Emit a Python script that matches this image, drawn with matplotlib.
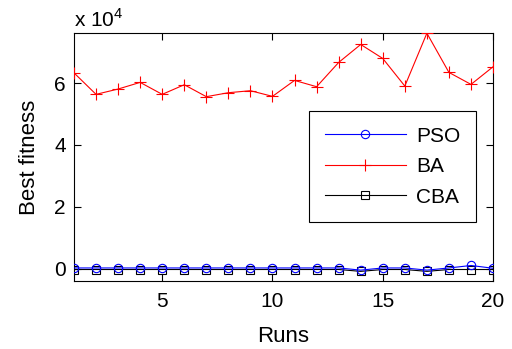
import matplotlib
matplotlib.use("Agg")
import matplotlib.pyplot as plt
from matplotlib.ticker import FuncFormatter

plt.rcParams['font.family'] = 'Liberation Sans'
plt.rcParams['mathtext.fontset'] = 'custom'
plt.rcParams['mathtext.rm'] = 'Liberation Sans'

runs = list(range(1, 21))
pso = [200, 200, 200, 200, 200, 200, 200, 200, 200, 200,
       200, 200, 200, -500, 200, 200, -500, 200, 1000, 100]
ba = [63300, 56350, 58070, 60220, 56350, 59460, 55600, 56880, 57530, 55700,
      60860, 58820, 66670, 72480, 67960, 59030, 76130, 63440, 59570, 65270]
cba = [-300, -300, -300, -300, -300, -300, -300, -300, -300, -300,
       -300, -300, -300, -900, -300, -300, -900, -300, -300, -300]

fig = plt.figure(figsize=(5.12, 3.49), dpi=100)
ax = fig.add_axes([0.1445, 0.195, 0.8185, 0.7105])

ax.plot(runs, cba, color='black', lw=0.8, marker='s', ms=6, mfc='none',
        mew=0.8, label='CBA', zorder=2)
ax.plot(runs, ba, color='red', lw=0.8, marker='+', ms=8, mew=0.8,
        label='BA', zorder=3)
ax.plot(runs, pso, color='blue', lw=0.8, marker='o', ms=6, mfc='none',
        mew=0.8, label='PSO', zorder=4)

ax.set_xlim(1, 20)
ax.set_ylim(-4000, 76200)
ax.set_xticks([5, 10, 15, 20])
ax.set_yticks([0, 20000, 40000, 60000])
# y ticks shown in units of 1e4, with the multiplier written above the axes
ax.yaxis.set_major_formatter(FuncFormatter(lambda v, p: '%g' % (v / 1e4)))
ax.tick_params(direction='in', top=True, right=True, labelsize=15,
               length=5, width=0.8, pad=6)
ax.tick_params(axis='x', pad=8)
for s in ax.spines.values():
    s.set_linewidth(0.8)

ax.set_xlabel('Runs', fontsize=16, labelpad=11)
ax.set_ylabel('Best fitness', fontsize=16, labelpad=10)
ax.text(0, 1.024, r'x 10$^{4}$', transform=ax.transAxes,
        fontsize=15, ha='left', va='baseline')

h, l = ax.get_legend_handles_labels()
order = [2, 1, 0]
leg = ax.legend([h[i] for i in order], [l[i] for i in order],
                loc='upper left', bbox_to_anchor=(0.561, 0.685),
                borderaxespad=0, fontsize=15, fancybox=False, framealpha=1,
                edgecolor='black', handlelength=3.9, borderpad=0.75,
                labelspacing=0.55, handletextpad=0.5)
leg.get_frame().set_linewidth(0.8)

fig.savefig('out.png', dpi=100)
